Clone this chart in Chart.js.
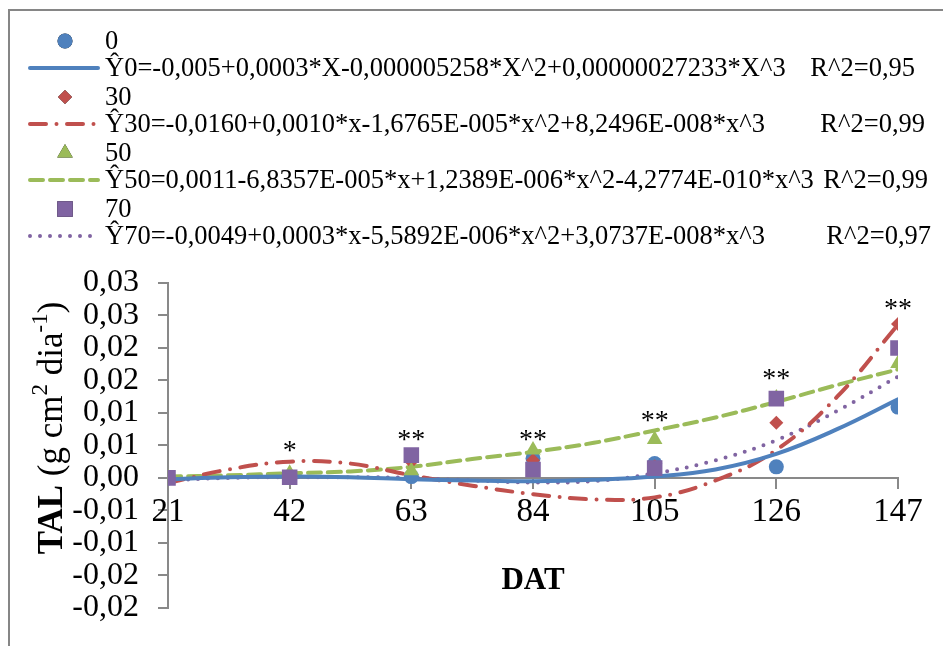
<!DOCTYPE html>
<html>
<head>
<meta charset="utf-8">
<script src="https://cdn.jsdelivr.net/npm/chart.js@4.4.1/dist/chart.umd.min.js"></script>
<style>
  html, body { margin: 0; padding: 0; background: #fff; }
  #chart { display: block; }
</style>
</head>
<body>
<canvas id="chart" width="943" height="646"></canvas>
<script>
// observed TAL values per sampling day
const days = [21, 42, 63, 84, 105, 126, 147];
const obs0 = [0, 0.0001, 0.0002, 0.0030, 0.0022, 0.0017, 0.0109];
const obs30 = [0, 0.0001, 0.0025, 0.0027, 0.0018, 0.0085, 0.0237];
const obs50 = [0, 0.0007, 0.0011, 0.0043, 0.0059, 0.0123, 0.0176];
const obs70 = [0, 0.0001, 0.0035, 0.0013, 0.0015, 0.0122, 0.0200];

// fitted curves
const fitDays = [21, 31.5, 42, 52.5, 63, 73.5, 84, 94.5, 105, 115.5, 126, 136.5, 147];
const fit0 = [-0.0002, 0.0001, 0.0002, 0.0001, -0.0002, -0.0004, -0.0005, -0.0003, 0.0002, 0.0013, 0.0037, 0.0075, 0.0121];
const fit30 = [-0.0008, 0.0013, 0.0025, 0.0022, 0.0004, -0.0012, -0.0025, -0.0033, -0.0030, -0.0004, 0.0043, 0.0125, 0.0236];
const fit50 = [0.0002, 0.0004, 0.0007, 0.0010, 0.0017, 0.0029, 0.0040, 0.0054, 0.0073, 0.0093, 0.0117, 0.0143, 0.0167];
const fit70 = [-0.0004, 0.0000, 0.0001, 0.0001, 0.0000, -0.0004, -0.0007, -0.0005, 0.0007, 0.0027, 0.0058, 0.0103, 0.0156];

const seriesNames = ['0', '30', '50', '70'];
const equations = [
  'Ŷ0=-0,005+0,0003*X-0,000005258*X^2+0,00000027233*X^3',
  'Ŷ30=-0,0160+0,0010*x-1,6765E-005*x^2+8,2496E-008*x^3',
  'Ŷ50=0,0011-6,8357E-005*x+1,2389E-006*x^2-4,2774E-010*x^3',
  'Ŷ70=-0,0049+0,0003*x-5,5892E-006*x^2+3,0737E-008*x^3'
];
const r2Labels = ['R^2=0,95', 'R^2=0,99', 'R^2=0,99', 'R^2=0,97'];

const yTickLabels = ['-0,02', '-0,02', '-0,01', '-0,01', '0,00', '0,01', '0,01', '0,02', '0,02', '0,03', '0,03'];
const starDays = [42, 63, 84, 105, 126, 147];
const starTexts = ['*', '**', '**', '**', '**', '**'];
const starLevels = [0.0041, 0.0058, 0.0058, 0.0087, 0.0151, 0.0259];

const FONT = "'Liberation Serif', 'Times New Roman', serif";
const colors = ['#4f81bd', '#c0504d', '#9bbb59', '#8064a2'];
const pointStyles = ['circle', 'rectRot', 'triangle', 'rect'];
const pointRadii = [7.5, 7, 9, 11];
const dashes = [[], [16, 10.5, 0, 10.5], [13, 7], [0, 10]];
const r2Right = [915, 925, 928, 931];
const fits = [fit0, fit30, fit50, fit70];
const observed = [obs0, obs30, obs50, obs70];

const toXY = (xs, ys) => xs.map((d, i) => ({ x: d, y: ys[i] }));

const datasets = [];
observed.forEach((vals, i) => {
  datasets.push({
    type: 'scatter',
    label: seriesNames[i],
    data: toXY(days, vals),
    pointStyle: pointStyles[i],
    pointRadius: pointRadii[i],
    pointBackgroundColor: colors[i],
    pointBorderColor: colors[i],
    pointBorderWidth: 0,
    showLine: false,
    order: 3 - i,
  });
});
fits.forEach((vals, i) => {
  datasets.push({
    type: 'line',
    label: equations[i],
    data: toXY(fitDays, vals),
    borderColor: colors[i],
    borderWidth: 4,
    borderDash: dashes[i],
    borderCapStyle: 'round',
    pointRadius: 0,
    tension: 0.4,
    fill: false,
    order: 4 + i,
  });
});

const decorations = {
  id: 'decorations',
  afterDraw(chart) {
    const { ctx, scales: { x, y } } = chart;
    ctx.save();

    // outer frame
    ctx.strokeStyle = '#868686';
    ctx.lineWidth = 2;
    ctx.strokeRect(9, 10, 1000, 800);

    // legend, two rows per series
    ctx.fillStyle = '#000';
    ctx.textBaseline = 'middle';
    ctx.font = '26.5px ' + FONT;
    const space = ctx.measureText(' ').width;
    seriesNames.forEach((name, i) => {
      const rowY = 41 + i * 56;
      Chart.helpers.drawPoint(ctx, {
        pointStyle: pointStyles[i], radius: pointRadii[i], rotation: 0, borderWidth: 0,
      }, 65, rowY);
      ctx.fillStyle = colors[i];
      ctx.fill();
      ctx.fillStyle = '#000';
      ctx.textAlign = 'left';
      ctx.fillText(name, 105, rowY + 1);

      const lineY = rowY + 27;
      ctx.save();
      ctx.strokeStyle = colors[i];
      ctx.lineWidth = 4;
      ctx.lineCap = 'round';
      ctx.setLineDash(dashes[i]);
      ctx.beginPath();
      ctx.moveTo(30, lineY);
      ctx.lineTo(98, lineY);
      ctx.stroke();
      ctx.restore();
      ctx.fillText(equations[i], 105, lineY + 1);
      const eqEnd = 105 + ctx.measureText(equations[i]).width + space;
      const r2Start = Math.max(eqEnd, r2Right[i] - ctx.measureText(r2Labels[i]).width);
      ctx.fillText(r2Labels[i], r2Start, lineY + 1);
    });

    // significance marks
    ctx.textAlign = 'center';
    ctx.font = '28px ' + FONT;
    starTexts.forEach((s, i) => {
      ctx.fillText(s, x.getPixelForValue(starDays[i]), y.getPixelForValue(starLevels[i]));
    });

    // y axis title with superscripts
    const parts = [
      { t: 'TAL', f: 'bold 35px ' + FONT, dy: 0 },
      { t: ' (g cm', f: '35px ' + FONT, dy: 0 },
      { t: '2', f: '23px ' + FONT, dy: -12 },
      { t: ' dia', f: '35px ' + FONT, dy: 0 },
      { t: '-1', f: '23px ' + FONT, dy: -12 },
      { t: ')', f: '35px ' + FONT, dy: 0 },
    ];
    let total = 0;
    parts.forEach(p => { ctx.font = p.f; p.w = ctx.measureText(p.t).width; total += p.w; });
    ctx.translate(53, 428);
    ctx.rotate(-Math.PI / 2);
    ctx.textAlign = 'left';
    ctx.textBaseline = 'middle';
    let px = -total / 2;
    parts.forEach(p => {
      ctx.font = p.f;
      ctx.fillText(p.t, px, p.dy);
      px += p.w;
    });
    ctx.restore();
  }
};

new Chart(document.getElementById('chart'), {
  data: { datasets },
  options: {
    responsive: false,
    animation: false,
    layout: { padding: { left: 0, right: 45, top: 283, bottom: 33 } },
    plugins: {
      legend: { display: false },
      tooltip: { enabled: false },
    },
    scales: {
      x: {
        type: 'linear',
        min: 21,
        max: 147,
        position: { y: 0 },
        ticks: {
          stepSize: 21,
          autoSkip: false,
          maxRotation: 0,
          color: '#000',
          padding: 5,
          font: { family: FONT, size: 33 },
        },
        grid: { drawOnChartArea: false, drawTicks: true, tickLength: 10, color: '#898989', lineWidth: 2 },
        border: { color: '#898989', width: 2 },
        title: {
          display: true,
          text: 'DAT',
          color: '#000',
          font: { family: FONT, size: 31, weight: 'bold' },
          padding: { top: 25, bottom: 0 },
        },
      },
      y: {
        type: 'linear',
        min: -0.02,
        max: 0.03,
        afterFit(scale) { scale.width = 168; },
        ticks: {
          stepSize: 0.005,
          autoSkip: false,
          color: '#000',
          padding: 19,
          font: { family: FONT, size: 32 },
          callback: (v, i) => yTickLabels[i],
        },
        grid: { drawOnChartArea: false, drawTicks: true, tickLength: 10, color: '#898989', lineWidth: 2 },
        border: { color: '#898989', width: 2 },
      },
    },
  },
  plugins: [decorations],
});
</script>
</body>
</html>
